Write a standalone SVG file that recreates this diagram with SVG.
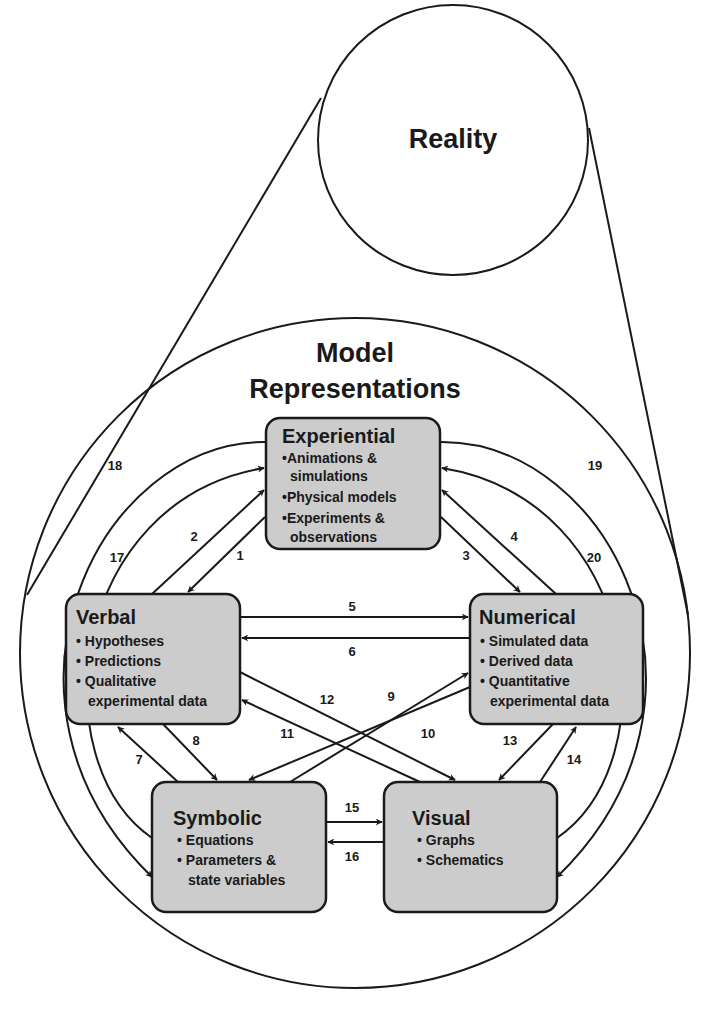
<svg xmlns="http://www.w3.org/2000/svg" width="712" height="1010" viewBox="0 0 712 1010">
<style>
text{font-family:"Liberation Sans",Arial,sans-serif;font-weight:bold;fill:#1a1a1a}
.big{font-size:27px}.t{font-size:20px}.b{font-size:14px}.n{font-size:13px}
.box{fill:#cccccc;stroke:#1a1a1a;stroke-width:2.5}
.ln{fill:none;stroke:#1a1a1a;stroke-width:2}
.c{fill:none;stroke:#1a1a1a;stroke-width:2}
</style>
<defs><marker id="a" viewBox="0 0 10 10" refX="9" refY="5" markerWidth="7" markerHeight="7" orient="auto" markerUnits="userSpaceOnUse"><path d="M0,0 L10,5 L0,10 L3,5 Z" fill="#1a1a1a"/></marker></defs>
<g id="outer">
<circle class="c" cx="355" cy="653" r="335"/>
<circle class="c" cx="453" cy="140" r="135" fill="#fff"/>
<line class="c" x1="321" y1="98" x2="27" y2="595"/>
<line class="c" x1="589" y1="128" x2="688" y2="615"/>
<text class="big" x="453" y="148" text-anchor="middle">Reality</text>
<text class="big" x="355" y="362" text-anchor="middle">Model</text>
<text class="big" x="355" y="398" text-anchor="middle">Representations</text>
</g>
<g id="connectors" marker-end="url(#a)">
<path class="ln" d="M266,442 C100,440 -30,700 152,877"/>
<path class="ln" d="M152,838 C40,760 70,500 264,468"/>
<path class="ln" d="M440,442 C610,440 740,700 557,877"/>
<path class="ln" d="M557,838 C670,760 640,500 442,468"/>
<line class="ln" x1="265" y1="517" x2="188" y2="592"/>
<line class="ln" x1="152" y1="594" x2="264" y2="490"/>
<line class="ln" x1="441" y1="517" x2="520" y2="592"/>
<line class="ln" x1="556" y1="594" x2="442" y2="490"/>
<line class="ln" x1="240" y1="617" x2="468" y2="617"/>
<line class="ln" x1="470" y1="638" x2="242" y2="638"/>
<line class="ln" x1="178" y1="782" x2="118" y2="727"/>
<line class="ln" x1="163" y1="724" x2="217" y2="780"/>
<line class="ln" x1="290" y1="782" x2="468" y2="673"/>
<line class="ln" x1="470" y1="687" x2="249" y2="780"/>
<line class="ln" x1="240" y1="672" x2="455" y2="780"/>
<line class="ln" x1="420" y1="782" x2="242" y2="700"/>
<line class="ln" x1="553" y1="724" x2="499" y2="780"/>
<line class="ln" x1="540" y1="782" x2="576" y2="727"/>
<line class="ln" x1="326" y1="822" x2="382" y2="822"/>
<line class="ln" x1="384" y1="842" x2="328" y2="842"/>
</g>
<g id="labels">
<text class="n" x="115" y="470" text-anchor="middle">18</text>
<text class="n" x="117" y="562" text-anchor="middle">17</text>
<text class="n" x="595" y="470" text-anchor="middle">19</text>
<text class="n" x="594" y="562" text-anchor="middle">20</text>
<text class="n" x="240" y="560" text-anchor="middle">1</text>
<text class="n" x="194" y="541" text-anchor="middle">2</text>
<text class="n" x="466" y="560" text-anchor="middle">3</text>
<text class="n" x="514" y="541" text-anchor="middle">4</text>
<text class="n" x="352" y="611" text-anchor="middle">5</text>
<text class="n" x="352" y="656" text-anchor="middle">6</text>
<text class="n" x="139" y="764" text-anchor="middle">7</text>
<text class="n" x="196" y="745" text-anchor="middle">8</text>
<text class="n" x="391" y="701" text-anchor="middle">9</text>
<text class="n" x="428" y="738" text-anchor="middle">10</text>
<text class="n" x="287" y="738" text-anchor="middle">11</text>
<text class="n" x="327" y="704" text-anchor="middle">12</text>
<text class="n" x="510" y="745" text-anchor="middle">13</text>
<text class="n" x="574" y="764" text-anchor="middle">14</text>
<text class="n" x="352" y="812" text-anchor="middle">15</text>
<text class="n" x="352" y="861" text-anchor="middle">16</text>
</g>
<g id="experiential">
<rect class="box" x="266" y="418" width="174" height="131" rx="14"/>
<text class="t" x="282" y="443">Experiential</text>
<text class="b" x="282" y="463">•Animations &amp;</text>
<text class="b" x="290" y="481">simulations</text>
<text class="b" x="282" y="502">•Physical models</text>
<text class="b" x="282" y="523">•Experiments &amp;</text>
<text class="b" x="290" y="542">observations</text>
</g>
<g id="verbal">
<rect class="box" x="66" y="594" width="174" height="130" rx="14"/>
<text class="t" x="76" y="624">Verbal</text>
<text class="b" x="76" y="646">• Hypotheses</text>
<text class="b" x="76" y="666">• Predictions</text>
<text class="b" x="76" y="686">• Qualitative</text>
<text class="b" x="88" y="706">experimental data</text>
</g>
<g id="numerical">
<rect class="box" x="470" y="594" width="173" height="130" rx="14"/>
<text class="t" x="479" y="624">Numerical</text>
<text class="b" x="480" y="646">• Simulated data</text>
<text class="b" x="480" y="666">• Derived data</text>
<text class="b" x="480" y="686">• Quantitative</text>
<text class="b" x="490" y="706">experimental data</text>
</g>
<g id="symbolic">
<rect class="box" x="152" y="782" width="174" height="130" rx="14"/>
<text class="t" x="173" y="825">Symbolic</text>
<text class="b" x="177" y="845">• Equations</text>
<text class="b" x="177" y="865">• Parameters &amp;</text>
<text class="b" x="188" y="885">state variables</text>
</g>
<g id="visual">
<rect class="box" x="384" y="782" width="173" height="130" rx="14"/>
<text class="t" x="412" y="825">Visual</text>
<text class="b" x="417" y="845">• Graphs</text>
<text class="b" x="417" y="865">• Schematics</text>
</g>
</svg>
